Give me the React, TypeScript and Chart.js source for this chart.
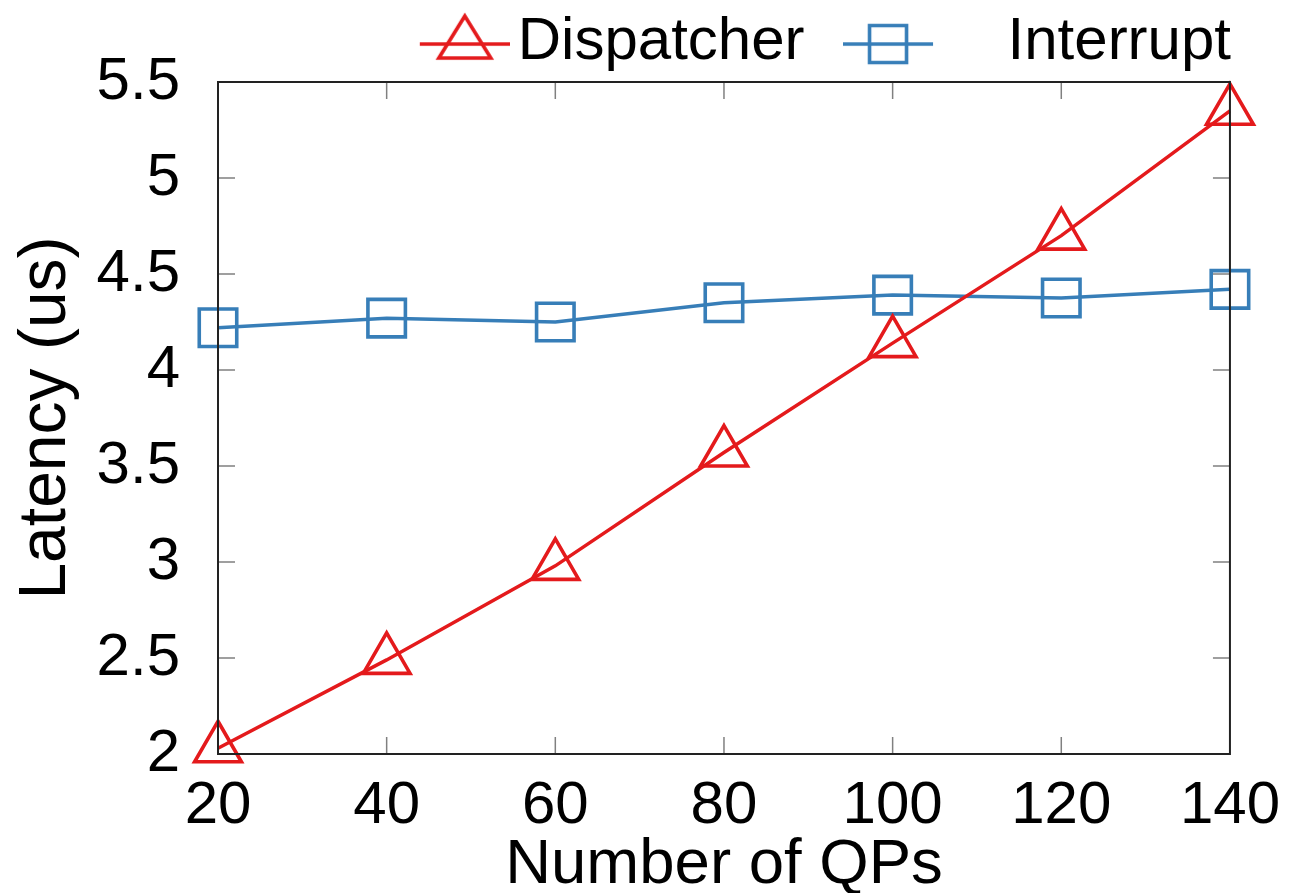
import React, { useEffect, useRef } from 'react';
import { Chart, registerables } from 'chart.js';

Chart.register(...registerables);

// ---- data ----
const qpCounts = [20, 40, 60, 80, 100, 120, 140];
const dispatcherLatency = [2.03, 2.49, 2.98, 3.57, 4.14, 4.7, 5.35];
const interruptLatency = [4.22, 4.27, 4.25, 4.35, 4.39, 4.375, 4.42];
const xTickValues = [20, 40, 60, 80, 100, 120, 140];
const yTickValues = [2, 2.5, 3, 3.5, 4, 4.5, 5, 5.5];
const yTickLabels = ['2', '2.5', '3', '3.5', '4', '4.5', '5', '5.5'];
const seriesLabels = ['Dispatcher', 'Interrupt'];
const xAxisTitle = 'Number of QPs';
const yAxisTitle = 'Latency (us)';

const RED = '#e41a1c';
const BLUE = '#377eb8';
const FONT = "'Liberation Sans', Arial, Helvetica, sans-serif";

function makeSample(kind: 'triangle' | 'square', color: string): HTMLCanvasElement {
  const c = document.createElement('canvas');
  const H = 80;
  const W = kind === 'triangle' ? 217 : 96;
  c.width = W;
  c.height = H;
  const ctx = c.getContext('2d')!;
  const ly = H / 2 + 2;
  const x0 = kind === 'triangle' ? W - 90 : 0;
  const x1 = x0 + 90;
  const cx = (x0 + x1) / 2;
  ctx.strokeStyle = color;
  ctx.lineWidth = 3.5;
  ctx.beginPath();
  ctx.moveTo(x0, ly);
  ctx.lineTo(x1, ly);
  ctx.stroke();
  ctx.lineWidth = 3.6;
  ctx.beginPath();
  if (kind === 'triangle') {
    ctx.moveTo(cx, ly - 28);
    ctx.lineTo(cx + 26, ly + 14);
    ctx.lineTo(cx - 26, ly + 14);
    ctx.closePath();
  } else {
    ctx.rect(cx - 18.5, ly - 18.5, 37, 37);
  }
  ctx.stroke();
  return c;
}

export default function App() {
  const ref = useRef<HTMLCanvasElement>(null);

  useEffect(() => {
    const canvas = ref.current;
    if (!canvas) return;
    document.body.style.margin = '0';
    const samples = [makeSample('triangle', RED), makeSample('square', BLUE)];

    const framePlugin = {
      id: 'frame',
      beforeDatasetsDraw(chart: any) {
        const { ctx, chartArea: a } = chart;
        const xs = chart.scales.x;
        const ys = chart.scales.y;
        ctx.save();
        ctx.strokeStyle = '#808080';
        ctx.lineWidth = 1.5;
        ctx.beginPath();
        xTickValues.forEach((v) => {
          const px = xs.getPixelForValue(v);
          if (px <= a.left + 1 || px >= a.right - 1) return;
          ctx.moveTo(px, a.bottom);
          ctx.lineTo(px, a.bottom - 17);
          ctx.moveTo(px, a.top);
          ctx.lineTo(px, a.top + 17);
        });
        yTickValues.forEach((v) => {
          const py = ys.getPixelForValue(v);
          if (py <= a.top + 1 || py >= a.bottom - 1) return;
          ctx.moveTo(a.left, py);
          ctx.lineTo(a.left + 17, py);
          ctx.moveTo(a.right, py);
          ctx.lineTo(a.right - 17, py);
        });
        ctx.stroke();
        ctx.restore();
      },
      afterDatasetsDraw(chart: any) {
        const { ctx, chartArea: a } = chart;
        ctx.save();
        ctx.strokeStyle = '#222';
        ctx.lineWidth = 2;
        ctx.strokeRect(a.left, a.top, a.right - a.left, a.bottom - a.top);
        ctx.restore();
      },
    };

    const chart = new Chart(canvas, {
      type: 'line',
      data: {
        datasets: [
          {
            label: seriesLabels[0],
            data: qpCounts.map((x, i) => ({ x, y: dispatcherLatency[i] })),
            borderColor: RED,
            borderWidth: 3.5,
            pointStyle: 'triangle',
            pointRadius: 27,
            pointBorderWidth: 3.6,
            pointBorderColor: RED,
            pointBackgroundColor: 'rgba(0,0,0,0)',
            fill: false,
            clip: false as any,
          },
          {
            label: seriesLabels[1],
            data: qpCounts.map((x, i) => ({ x, y: interruptLatency[i] })),
            borderColor: BLUE,
            borderWidth: 3.5,
            pointStyle: 'rect',
            pointRadius: 26.5,
            pointBorderWidth: 3.6,
            pointBorderColor: BLUE,
            pointBackgroundColor: 'rgba(0,0,0,0)',
            fill: false,
            clip: false as any,
          },
        ],
      },
      options: {
        animation: false,
        responsive: true,
        maintainAspectRatio: false,
        events: [],
        layout: { padding: { top: 5, right: 65, left: 0, bottom: 0 } },
        plugins: {
          tooltip: { enabled: false },
          legend: {
            display: true,
            position: 'top',
            align: 'end',
            labels: {
              usePointStyle: true,
              pointStyleWidth: 173,
              padding: 0,
              color: '#000',
              font: { size: 60, family: FONT },
              generateLabels: (ch: any) =>
                ch.data.datasets.map((ds: any, i: number) => ({
                  text: ds.label,
                  pointStyle: samples[i],
                  fillStyle: 'rgba(0,0,0,0)',
                  strokeStyle: 'rgba(0,0,0,0)',
                  lineWidth: 0,
                  hidden: false,
                  datasetIndex: i,
                  fontColor: '#000',
                })),
            },
          },
        },
        scales: {
          x: {
            type: 'linear',
            min: 20,
            max: 140,
            grid: { display: false, drawTicks: false },
            border: { display: false },
            afterBuildTicks: (s: any) => {
              s.ticks = xTickValues.map((v) => ({ value: v }));
            },
            afterFit: (s: any) => {
              s.height = 139;
            },
            ticks: {
              padding: 16,
              color: '#000',
              font: { size: 60, family: FONT },
              maxRotation: 0,
              autoSkip: false,
              callback: (v: any) => String(v),
            },
            title: {
              display: true,
              text: xAxisTitle,
              color: '#000',
              font: { size: 63.5, family: FONT, lineHeight: 0.8 },
              padding: { top: 0, bottom: 2 },
            },
          },
          y: {
            type: 'linear',
            min: 2,
            max: 5.5,
            grid: { display: false, drawTicks: false },
            border: { display: false },
            afterBuildTicks: (s: any) => {
              s.ticks = yTickValues.map((v) => ({ value: v }));
            },
            afterFit: (s: any) => {
              s.width = 218;
            },
            ticks: {
              padding: 38,
              color: '#000',
              font: { size: 60, family: FONT, lineHeight: 1.4667 },
              autoSkip: false,
              callback: (v: any) => {
                const i = yTickValues.indexOf(Number(v));
                return i >= 0 ? yTickLabels[i] : String(v);
              },
            },
            title: {
              display: true,
              text: yAxisTitle,
              color: '#000',
              font: { size: 66, family: FONT },
              padding: { top: 7, bottom: 0 },
            },
          },
        },
      },
      plugins: [framePlugin],
    });

    return () => {
      chart.destroy();
    };
  }, []);

  return (
    <div style={{ position: 'absolute', left: 0, top: 0, width: 1296, height: 893, background: '#fff' }}>
      <canvas ref={ref} />
    </div>
  );
}
